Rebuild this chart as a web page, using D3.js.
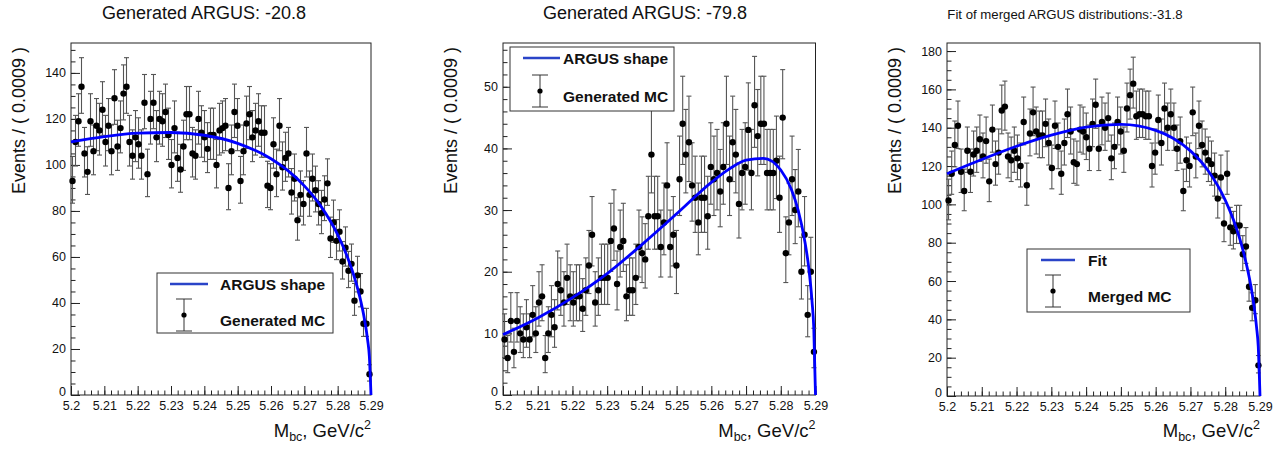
<!DOCTYPE html>
<html>
<head>
<meta charset="utf-8">
<script src="https://cdn.jsdelivr.net/npm/d3@7"></script>
<style>
  body { margin: 0; background: #fff; }
  svg { display: block; font-family: "Liberation Sans", Arial, Helvetica, sans-serif; }
</style>
</head>
<body>
<div id="chart"></div>
<script>
/* ===== Data ===== */

const binWidth = 0.0009;
const massRange = [5.2, 5.29];
const xTickValues = [5.2, 5.21, 5.22, 5.23, 5.24, 5.25, 5.26, 5.27, 5.28, 5.29];
const xTickLabels = ['5.2', '5.21', '5.22', '5.23', '5.24', '5.25', '5.26', '5.27', '5.28', '5.29'];

// Events per bin (100 bins of 0.0009 from 5.2 to 5.29)
const countsArgus208 = [
  93, 110, 119, 134, 105, 97, 119, 106, 117, 115,
  124, 110, 117, 106, 129, 108, 116, 131, 134, 110,
  104, 112, 109, 104, 127, 96, 120, 127, 112, 120,
  119, 123, 113, 100, 116, 103, 98, 108, 122, 122,
  105, 104, 120, 114, 112, 107, 113, 113, 100, 115,
  116, 117, 90, 106, 123, 117, 93, 106, 118, 122,
  112, 115, 119, 114, 114, 91, 90, 109, 96, 117,
  99, 103, 105, 88, 94, 76, 87, 83, 105, 87,
  94, 89, 83, 79, 85, 92, 68, 75, 67, 71,
  58, 64, 54, 57, 41, 52, 45, 31, 31, 9
];

const countsArgus798 = [
  9, 6, 12, 7, 12, 10, 9, 11, 9, 13,
  10, 15, 16, 6, 10, 13, 11, 18, 17, 15,
  19, 16, 15, 16, 16, 14, 17, 21, 26, 15,
  17, 19, 19, 19, 25, 27, 18, 24, 25, 16,
  17, 17, 19, 24, 23, 22, 29, 39, 29, 29,
  24, 28, 34, 24, 26, 21, 35, 44, 39, 41,
  34, 32, 28, 32, 32, 29, 37, 35, 36, 33,
  37, 44, 35, 41, 39, 31, 36, 37, 43, 36,
  47, 42, 44, 44, 36, 36, 36, 38, 32, 45,
  23, 28, 35, 30, 33, 20, 26, 13, 20, 7
];

const countsMerged = [
  102, 116, 131, 141, 117, 107, 128, 117, 126, 128,
  134, 125, 133, 112, 139, 121, 127, 149, 151, 125,
  123, 128, 124, 120, 143, 110, 137, 148, 138, 136,
  136, 142, 132, 119, 141, 130, 116, 132, 147, 138,
  122, 121, 139, 138, 135, 129, 142, 152, 129, 143,
  140, 145, 124, 130, 143, 138, 128, 150, 157, 163,
  146, 147, 147, 146, 146, 120, 127, 144, 132, 150,
  140, 147, 140, 129, 133, 107, 123, 120, 148, 125,
  141, 131, 127, 123, 121, 115, 103, 114, 90, 116,
  88, 86, 89, 89, 74, 78, 57, 46, 50, 16
];

// ARGUS curves, read at these masses
const curveMass = [5.2, 5.21, 5.22, 5.23, 5.24, 5.25, 5.26, 5.265, 5.27, 5.275,
                   5.28, 5.283, 5.285, 5.287, 5.288, 5.289, 5.2895, 5.29];
const curveArgus208 = [110, 112.3, 113.8, 114.1, 112.9, 109.4, 102.7, 97.6, 90.9, 82.0,
                       69.7, 59.7, 51.3, 40.4, 33.3, 23.8, 16.9, 0];
const curveArgus798 = [9.8, 12.5, 15.8, 19.7, 24.4, 29.4, 34.5, 36.6, 38.1, 38.4,
                       36.5, 33.4, 30.0, 24.7, 20.9, 15.2, 10.9, 0];
const curveMerged = [116, 123.4, 130.3, 136.1, 140.3, 141.7, 138.6, 134.5, 127.9, 117.8,
                     102.2, 88.7, 76.8, 61.0, 50.5, 36.1, 25.7, 0];

const yTicksA = [0, 20, 40, 60, 80, 100, 120, 140];
const yTicksB = [0, 10, 20, 30, 40, 50];
const yTicksC = [0, 20, 40, 60, 80, 100, 120, 140, 160, 180];

/* ===== Layout ===== */

const W = 1283, H = 451;

const panels = [
  {
    title: 'Generated ARGUS: -20.8', titleX: 204, titleSize: 18,
    left: 71, right: 371, top: 43, bottom: 395, yMax: 153,
    yTicks: yTicksA, yMinorStep: 5,
    counts: countsArgus208, curve: curveArgus208,
    legend: { x: 157, y: 273, w: 176, h: 60, lineY: 284, markY: 315, textX: 220,
              labels: ['ARGUS shape', 'Generated MC'], symX: 184, lineX: [170, 208] }
  },
  {
    title: 'Generated ARGUS: -79.8', titleX: 645, titleSize: 18,
    left: 503, right: 815.5, top: 43, bottom: 395, yMax: 57.1,
    yTicks: yTicksB, yMinorStep: 2,
    counts: countsArgus798, curve: curveArgus798,
    legend: { x: 510, y: 47, w: 164, h: 64, lineY: 58, markY: 91, textX: 563,
              labels: ['ARGUS shape', 'Generated MC'], symX: 540, lineX: [523, 560] }
  },
  {
    title: 'Fit of merged ARGUS distributions:-31.8', titleX: 1065, titleSize: 13.2,
    left: 947, right: 1260, top: 43, bottom: 396, yMax: 184.2,
    yTicks: yTicksC, yMinorStep: 5,
    counts: countsMerged, curve: curveMerged,
    legend: { x: 1027, y: 249, w: 163, h: 63, lineY: 260, markY: 291, textX: 1088,
              labels: ['Fit', 'Merged MC'], symX: 1053, lineX: [1041, 1075] }
  }
];

/* ===== Drawing ===== */

const svg = d3.select('#chart').append('svg')
  .attr('width', W)
  .attr('height', H)
  .attr('viewBox', `0 0 ${W} ${H}`);

svg.append('rect').attr('width', W).attr('height', H).attr('fill', '#fff');

// Poisson (Gehrels) 68% interval, as RooFit plots data
function poissonLow(n) {
  if (n <= 0) return 0;
  return n * Math.pow(1 - 1 / (9 * n) - 1 / (3 * Math.sqrt(n)), 3);
}
function poissonHigh(n) {
  return n + Math.sqrt(n + 1) + 1;
}

panels.forEach(p => drawPanel(p));

function drawPanel(p) {
  const g = svg.append('g');

  const x = d3.scaleLinear().domain(massRange).range([p.left, p.right]);
  const y = d3.scaleLinear().domain([0, p.yMax]).range([p.bottom, p.top]);

  // Title
  g.append('text')
    .attr('x', p.titleX)
    .attr('y', 18.5)
    .attr('text-anchor', 'middle')
    .attr('font-size', p.titleSize)
    .attr('fill', '#111')
    .text(p.title);

  // Minor ticks
  const xMinor = d3.range(0, 46).map(i => 5.2 + i * 0.002);
  g.append('g')
    .attr('transform', `translate(0,${p.bottom})`)
    .call(d3.axisBottom(x).tickValues(xMinor).tickSize(-4.5).tickFormat(''))
    .call(a => a.select('.domain').remove());

  const yMinor = d3.range(0, p.yMax, p.yMinorStep);
  g.append('g')
    .attr('transform', `translate(${p.left},0)`)
    .call(d3.axisLeft(y).tickValues(yMinor).tickSize(-4.5).tickFormat(''))
    .call(a => a.select('.domain').remove());

  // Major ticks + labels
  const xAxis = g.append('g')
    .attr('transform', `translate(0,${p.bottom})`)
    .call(d3.axisBottom(x).tickValues(xTickValues).tickSize(-9).tickPadding(6)
      .tickFormat((d, i) => xTickLabels[i]));
  xAxis.select('.domain').remove();
  xAxis.selectAll('text').attr('font-size', 12.5).attr('fill', '#111')
    .attr('font-family', '"Liberation Sans", Arial, sans-serif');

  const yAxis = g.append('g')
    .attr('transform', `translate(${p.left},0)`)
    .call(d3.axisLeft(y).tickValues(p.yTicks).tickSize(-9).tickPadding(5));
  yAxis.select('.domain').remove();
  yAxis.selectAll('text').attr('font-size', 12.5).attr('fill', '#111')
    .attr('font-family', '"Liberation Sans", Arial, sans-serif');
  // the zero label sits a little higher so it clears the x labels
  yAxis.selectAll('.tick').filter(d => d === 0).select('text').attr('dy', '0.05em');

  g.selectAll('.tick line').attr('stroke', '#222');

  // Frame
  g.append('rect')
    .attr('x', p.left).attr('y', p.top)
    .attr('width', p.right - p.left).attr('height', p.bottom - p.top)
    .attr('fill', 'none').attr('stroke', '#222').attr('stroke-width', 1);

  // Axis titles
  g.append('text')
    .attr('transform', `translate(${p.left - 46},${p.top + 4}) rotate(-90)`)
    .attr('text-anchor', 'end')
    .attr('font-size', 18)
    .attr('fill', '#111')
    .text('Events / ( 0.0009 )');

  const xt = g.append('text')
    .attr('x', p.right)
    .attr('y', 437)
    .attr('text-anchor', 'end')
    .attr('font-size', 18.5)
    .attr('fill', '#111');
  xt.append('tspan').text('M');
  xt.append('tspan').attr('font-size', 12.5).attr('dy', 4).text('bc');
  xt.append('tspan').attr('dy', -4).text(', GeV/c');
  xt.append('tspan').attr('font-size', 12.5).attr('dy', -8).text('2');

  // Data points with Poisson error bars
  const pts = p.counts.map((n, i) => ({ m: massRange[0] + (i + 0.5) * binWidth, n }));

  const bars = g.append('g').attr('stroke', '#555').attr('stroke-width', 1.1);
  bars.selectAll('line.err')
    .data(pts)
    .join('line')
    .attr('class', 'err')
    .attr('x1', d => x(d.m)).attr('x2', d => x(d.m))
    .attr('y1', d => y(poissonHigh(d.n))).attr('y2', d => y(poissonLow(d.n)));
  bars.selectAll('line.capTop')
    .data(pts)
    .join('line')
    .attr('class', 'capTop')
    .attr('x1', d => x(d.m) - 2.5).attr('x2', d => x(d.m) + 2.5)
    .attr('y1', d => y(poissonHigh(d.n))).attr('y2', d => y(poissonHigh(d.n)));
  bars.selectAll('line.capBot')
    .data(pts)
    .join('line')
    .attr('class', 'capBot')
    .attr('x1', d => x(d.m) - 2.5).attr('x2', d => x(d.m) + 2.5)
    .attr('y1', d => y(poissonLow(d.n))).attr('y2', d => y(poissonLow(d.n)));

  g.append('g').selectAll('circle')
    .data(pts)
    .join('circle')
    .attr('cx', d => x(d.m))
    .attr('cy', d => y(d.n))
    .attr('r', 3.2)
    .attr('fill', '#000');

  // Fitted ARGUS curve
  const line = d3.line()
    .x(d => x(d[0]))
    .y(d => y(d[1]))
    .curve(d3.curveMonotoneX);
  g.append('path')
    .datum(curveMass.map((m, i) => [m, p.curve[i]]))
    .attr('d', line)
    .attr('fill', 'none')
    .attr('stroke', '#0000ff')
    .attr('stroke-width', 2.8);

  // Legend
  const L = p.legend;
  const lg = g.append('g');
  lg.append('rect')
    .attr('x', L.x).attr('y', L.y).attr('width', L.w).attr('height', L.h)
    .attr('fill', '#fff').attr('stroke', '#333').attr('stroke-width', 1);
  lg.append('line')
    .attr('x1', L.lineX[0]).attr('x2', L.lineX[1])
    .attr('y1', L.lineY).attr('y2', L.lineY)
    .attr('stroke', '#2a44c8').attr('stroke-width', 2.5);
  lg.append('line')
    .attr('x1', L.symX).attr('x2', L.symX)
    .attr('y1', L.markY - 16).attr('y2', L.markY + 16)
    .attr('stroke', '#333').attr('stroke-width', 1);
  [L.markY - 16, L.markY + 16].forEach(cy => {
    lg.append('line')
      .attr('x1', L.symX - 8).attr('x2', L.symX + 8)
      .attr('y1', cy).attr('y2', cy)
      .attr('stroke', '#333').attr('stroke-width', 1);
  });
  lg.append('circle').attr('cx', L.symX).attr('cy', L.markY).attr('r', 2.6).attr('fill', '#000');
  lg.append('text')
    .attr('x', L.textX).attr('y', L.lineY + 5.5)
    .attr('font-size', 15.5).attr('font-weight', 'bold').attr('fill', '#111')
    .text(L.labels[0]);
  lg.append('text')
    .attr('x', L.textX).attr('y', L.markY + 10.5)
    .attr('font-size', 15.5).attr('font-weight', 'bold').attr('fill', '#111')
    .text(L.labels[1]);
}
</script>
</body>
</html>
